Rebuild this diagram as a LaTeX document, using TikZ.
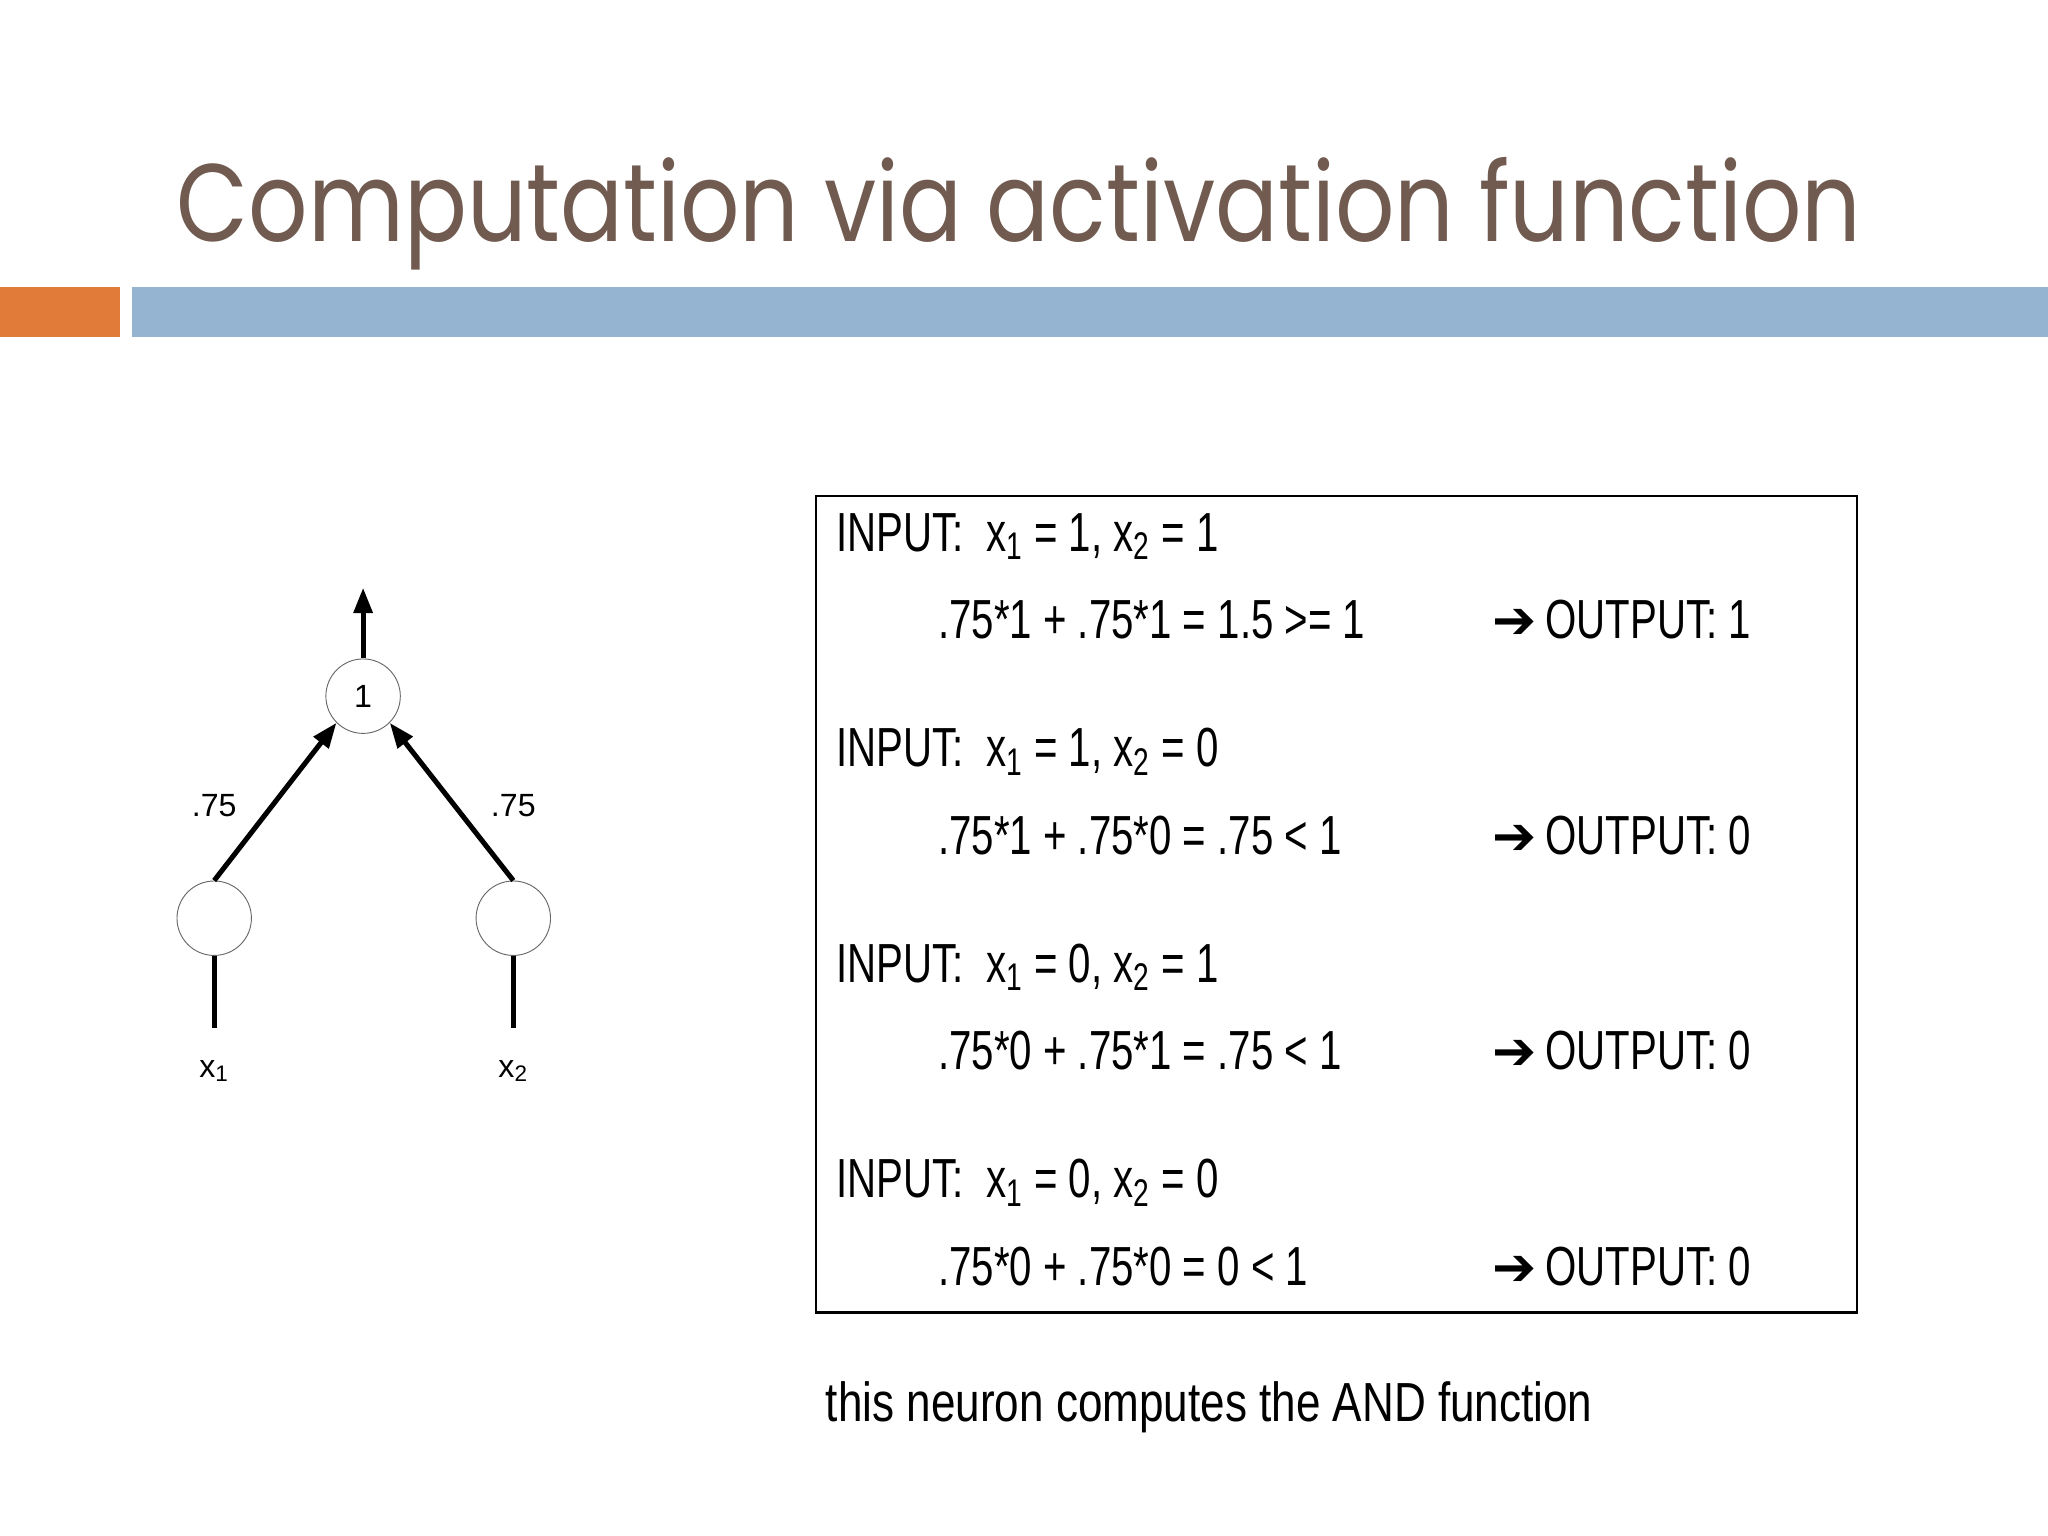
\documentclass[tikz,border=0pt]{standalone}
\usepackage{fontspec}
\setmainfont{Liberation Sans}
\newfontfamily\narrow[FakeStretch=0.73]{Liberation Sans}
\newfontfamily\footfont[FakeStretch=0.80]{Liberation Sans}
\newfontfamily\titlefont[FakeStretch=0.845]{Poppins}
\newfontfamily\symfont{DejaVu Sans}
\usetikzlibrary{arrows.meta}
\definecolor{orangebar}{HTML}{E07B39}
\definecolor{bluebar}{HTML}{94B4D2}
\definecolor{titlec}{HTML}{715B50}
\begin{document}
\begin{tikzpicture}[x=0.02cm,y=-0.02cm,
  neuron/.style={circle,draw=black!60,line width=0.4pt,minimum size=57*0.02cm,inner sep=0pt,font=\fontsize{14}{16}\selectfont\rmfamily},
  conn/.style={line width=2.2pt,-{Triangle[length=11pt,width=8pt]}},
  feed/.style={line width=2.2pt},
  lab/.style={font=\fontsize{14}{16}\selectfont},
  txt/.style={anchor=base west,inner sep=0pt,font=\narrow\fontsize{24}{28}\selectfont}]
\useasboundingbox (0,0) rectangle (1568,1176);
\fill[orangebar] (0,220) rectangle (92,258);
\fill[bluebar] (101,220) rectangle (1568,258);
\node[anchor=base west,inner sep=0pt,text=titlec,font=\titlefont\fontsize{48}{56}\selectfont] (title) at (135,185) {Computation via activation function};
% network
\node[neuron] (o) at (278,533) {1};
\node[neuron] (i1) at (164,703) {};
\node[neuron] (i2) at (393,703) {};
\coordinate (top) at (278,450);
\coordinate (b1) at (164,787);
\coordinate (b2) at (393,787);
\draw[conn] (o.north) -- (top);
\draw[conn] (i1.north) -- (o.south west);
\draw[conn] (i2.north) -- (o.south east);
\draw[feed] (i1.south) -- (b1);
\draw[feed] (i2.south) -- (b2);
\node[lab] (w1) at (164,617) {.75};
\node[lab] (w2) at (393,617) {.75};
\node[lab] (x1) at (164,820) {x\textsubscript{1}};
\node[lab] (x2) at (393,820) {x\textsubscript{2}};
% box
\node[draw,line width=1pt,minimum width=797*0.02cm,minimum height=625*0.02cm,anchor=north west,inner sep=0pt] (box) at (624,379) {};
\foreach \i/\a/\b/\f/\o in {0/1/1/{.75*1 + .75*1 = 1.5 >= 1}/1,1/1/0/{.75*1 + .75*0 = .75 < 1}/0,2/0/1/{.75*0 + .75*1 = .75 < 1}/0,3/0/0/{.75*0 + .75*0 = 0 < 1}/0}{
  \node[txt] (in\i) at (640,{422+165*\i}) {INPUT:\ \ x\textsubscript{1} = \a, x\textsubscript{2} = \b};
  \node[txt] (f\i) at (718,{489+165*\i}) {\f};
  \node[txt] (out\i) at (1142,{489+165*\i}) {{\symfont\bfseries\fontsize{23}{24}\selectfont ➔}\,OUTPUT: \o};
}
\node[anchor=base west,inner sep=0pt,font=\footfont\fontsize{24}{28}\selectfont] (foot) at (632,1088) {this neuron computes the AND function};
\end{tikzpicture}
\end{document}
